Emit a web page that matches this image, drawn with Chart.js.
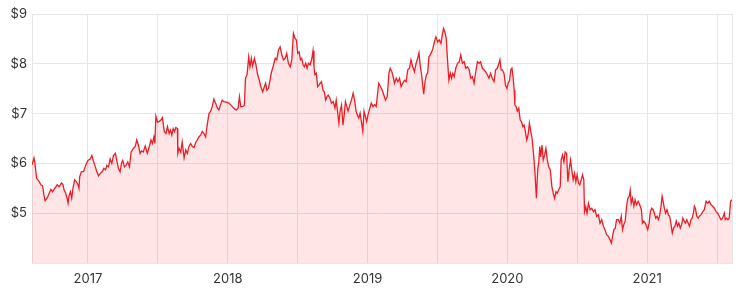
<!DOCTYPE html>
<html>
<head>
<meta charset="utf-8">
<script src="https://cdn.jsdelivr.net/npm/chart.js@4.4.1/dist/chart.umd.min.js"></script>
<style>
  html, body { margin: 0; padding: 0; background: #ffffff; }
  #wrap { width: 740px; height: 292px; }
</style>
</head>
<body>
<div id="wrap"><canvas id="c" width="740" height="292"></canvas></div>
<script>
// Dates as decimal years
const years = [
2016.600,2016.614,2016.621,2016.633,2016.652,2016.664,2016.676,2016.685,2016.694,2016.708,
2016.723,2016.735,2016.747,2016.763,2016.780,2016.794,2016.811,2016.822,2016.829,2016.841,
2016.851,2016.858,2016.865,2016.875,2016.884,2016.893,2016.905,2016.918,2016.929,2016.936,
2016.941,2016.953,2016.969,2016.984,2017.000,2017.017,2017.028,2017.041,2017.053,2017.064,
2017.076,2017.088,2017.102,2017.114,2017.126,2017.135,2017.147,2017.159,2017.171,2017.183,
2017.197,2017.206,2017.218,2017.230,2017.240,2017.249,2017.261,2017.273,2017.285,2017.297,
2017.309,2017.325,2017.339,2017.349,2017.361,2017.373,2017.384,2017.396,2017.410,2017.425,
2017.439,2017.451,2017.462,2017.472,2017.479,2017.486,2017.498,2017.510,2017.522,2017.533,
2017.546,2017.558,2017.569,2017.581,2017.590,2017.600,2017.610,2017.619,2017.629,2017.640,
2017.643,2017.652,2017.664,2017.674,2017.681,2017.688,2017.700,2017.711,2017.723,2017.735,
2017.747,2017.759,2017.771,2017.782,2017.794,2017.807,2017.818,2017.830,2017.842,2017.853,
2017.866,2017.878,2017.889,2017.901,2017.913,2017.925,2017.937,2017.949,2017.960,2017.972,
2017.989,2018.008,2018.027,2018.043,2018.060,2018.074,2018.084,2018.093,2018.107,2018.119,
2018.127,2018.138,2018.150,2018.159,2018.169,2018.178,2018.191,2018.202,2018.214,2018.226,
2018.237,2018.250,2018.262,2018.271,2018.280,2018.292,2018.311,2018.328,2018.340,2018.351,
2018.363,2018.375,2018.387,2018.399,2018.411,2018.422,2018.434,2018.447,2018.458,2018.470,
2018.482,2018.491,2018.501,2018.511,2018.520,2018.529,2018.539,2018.548,2018.558,2018.568,
2018.577,2018.589,2018.600,2018.610,2018.617,2018.624,2018.634,2018.643,2018.653,2018.662,
2018.671,2018.681,2018.691,2018.700,2018.710,2018.719,2018.731,2018.742,2018.755,2018.767,
2018.776,2018.785,2018.795,2018.804,2018.814,2018.824,2018.833,2018.842,2018.852,2018.861,
2018.873,2018.885,2018.897,2018.909,2018.918,2018.927,2018.937,2018.947,2018.956,2018.966,
2018.975,2018.984,2018.994,2019.003,2019.016,2019.027,2019.039,2019.051,2019.062,2019.080,
2019.094,2019.105,2019.117,2019.129,2019.141,2019.153,2019.162,2019.174,2019.183,2019.193,
2019.205,2019.217,2019.229,2019.240,2019.252,2019.264,2019.276,2019.288,2019.300,2019.311,
2019.323,2019.336,2019.347,2019.359,2019.368,2019.378,2019.387,2019.397,2019.402,2019.411,
2019.421,2019.430,2019.439,2019.449,2019.459,2019.468,2019.478,2019.489,2019.501,2019.513,
2019.525,2019.535,2019.544,2019.553,2019.563,2019.572,2019.582,2019.592,2019.601,2019.610,
2019.620,2019.631,2019.644,2019.656,2019.667,2019.679,2019.691,2019.703,2019.715,2019.727,
2019.738,2019.750,2019.762,2019.774,2019.786,2019.798,2019.809,2019.821,2019.833,2019.845,
2019.857,2019.869,2019.880,2019.892,2019.905,2019.916,2019.928,2019.940,2019.947,2019.956,
2019.964,2019.976,2019.987,2019.997,2020.006,2020.016,2020.025,2020.033,2020.042,2020.049,
2020.054,2020.063,2020.072,2020.082,2020.092,2020.101,2020.111,2020.120,2020.129,2020.139,
2020.148,2020.158,2020.168,2020.177,2020.184,2020.191,2020.198,2020.208,2020.217,2020.225,
2020.232,2020.239,2020.248,2020.257,2020.267,2020.276,2020.286,2020.296,2020.307,2020.319,
2020.331,2020.338,2020.348,2020.357,2020.367,2020.378,2020.385,2020.395,2020.405,2020.414,
2020.424,2020.433,2020.442,2020.452,2020.461,2020.471,2020.481,2020.490,2020.499,2020.509,
2020.518,2020.528,2020.538,2020.547,2020.552,2020.561,2020.570,2020.580,2020.592,2020.604,
2020.616,2020.627,2020.639,2020.651,2020.663,2020.675,2020.687,2020.698,2020.710,2020.722,
2020.734,2020.744,2020.753,2020.762,2020.772,2020.781,2020.794,2020.805,2020.815,2020.824,
2020.833,2020.843,2020.853,2020.862,2020.872,2020.879,2020.886,2020.895,2020.905,2020.914,
2020.924,2020.936,2020.947,2020.959,2020.966,2020.976,2020.986,2020.995,2021.004,2021.014,
2021.023,2021.033,2021.043,2021.052,2021.061,2021.071,2021.080,2021.089,2021.099,2021.107,
2021.114,2021.123,2021.132,2021.142,2021.151,2021.161,2021.171,2021.180,2021.189,2021.199,
2021.208,2021.217,2021.227,2021.237,2021.246,2021.256,2021.265,2021.274,2021.284,2021.294,
2021.303,2021.313,2021.322,2021.331,2021.338,2021.345,2021.355,2021.365,2021.374,2021.386,
2021.398,2021.409,2021.422,2021.434,2021.445,2021.457,2021.469,2021.481,2021.493,2021.505,
2021.516,2021.528,2021.540,2021.552,2021.559,2021.569,2021.578,2021.587,2021.597,2021.607
];
const prices = [
5.97,6.11,6.00,5.70,5.63,5.57,5.55,5.37,5.25,5.30,
5.40,5.48,5.43,5.50,5.57,5.53,5.61,5.57,5.47,5.40,
5.30,5.20,5.35,5.43,5.30,5.50,5.67,5.63,5.57,5.50,
5.73,5.83,5.84,5.96,6.06,6.09,6.16,6.03,5.93,5.83,
5.75,5.80,5.83,5.90,5.87,5.96,5.93,6.09,6.00,6.16,
6.20,6.06,5.90,5.83,6.00,6.06,5.93,5.96,6.03,5.93,
6.23,6.30,6.34,6.47,6.37,6.20,6.25,6.23,6.35,6.20,
6.34,6.47,6.40,6.53,6.40,6.95,6.83,6.84,6.87,6.92,
6.64,6.60,6.74,6.60,6.67,6.57,6.70,6.64,6.72,6.70,
6.20,6.30,6.23,6.43,6.27,6.11,6.27,6.20,6.34,6.40,
6.34,6.32,6.42,6.47,6.53,6.57,6.64,6.60,6.53,6.77,
7.00,7.05,7.14,7.29,7.21,7.12,7.07,7.18,7.27,7.24,
7.23,7.21,7.16,7.11,7.07,7.11,7.34,7.14,7.14,7.17,
7.71,7.78,8.14,7.94,8.11,7.96,8.11,7.98,7.78,7.67,
7.54,7.44,7.54,7.61,7.47,7.51,7.81,7.98,8.11,8.08,
8.28,8.34,8.18,8.08,8.11,8.21,8.01,7.94,8.08,8.61,
8.51,8.48,8.21,8.24,8.08,8.11,7.98,7.94,8.01,7.91,
8.01,7.98,8.08,8.26,7.94,7.78,7.81,7.54,7.57,7.61,
7.64,7.47,7.44,7.27,7.34,7.37,7.31,7.21,7.24,7.11,
7.27,7.05,6.81,7.05,7.17,6.77,6.97,7.24,7.14,7.05,
7.17,7.27,7.41,7.24,7.05,6.97,6.91,7.01,6.84,6.65,
7.05,6.95,6.84,6.97,7.11,7.21,7.14,7.18,7.14,7.61,
7.54,7.47,7.37,7.27,7.34,7.81,7.91,7.84,7.74,7.61,
7.71,7.64,7.71,7.54,7.61,7.67,7.64,7.88,7.91,8.08,
7.94,7.84,8.01,8.11,8.22,7.94,7.78,7.51,7.39,7.64,
7.78,7.81,8.14,8.18,8.24,8.31,8.44,8.54,8.44,8.48,
8.41,8.58,8.71,8.64,8.51,8.08,7.67,7.81,7.71,7.81,
7.74,7.91,8.01,8.04,8.18,8.01,8.04,7.91,7.94,7.88,
7.71,7.74,7.61,7.84,8.04,8.01,8.04,7.91,7.88,7.84,
7.78,7.71,7.81,7.71,7.64,7.88,7.91,8.01,8.08,7.88,
7.88,7.81,7.57,7.51,7.61,7.67,7.88,7.91,7.71,7.47,
7.17,7.14,7.05,7.11,6.87,6.84,6.74,6.77,6.64,6.47,
6.57,6.81,6.64,6.50,6.30,6.07,5.80,5.30,5.87,6.03,
6.34,6.13,6.37,6.07,6.17,6.30,6.07,5.93,5.87,5.53,
5.37,5.30,5.43,5.40,5.47,5.53,6.07,6.17,6.03,6.23,
6.20,5.63,5.87,6.07,5.87,5.67,5.80,5.63,5.77,5.60,
5.57,5.67,5.77,5.67,5.03,5.13,5.00,5.20,5.07,5.10,
5.03,5.07,4.94,4.97,4.80,4.87,4.74,4.67,4.57,4.54,
4.47,4.40,4.54,4.67,4.70,4.87,4.87,4.80,4.94,4.67,
4.77,4.84,5.14,5.30,5.34,5.46,5.20,5.30,5.14,5.27,
5.17,5.24,5.17,5.07,4.80,4.84,4.80,4.74,4.67,4.80,
5.03,5.10,5.07,5.00,4.90,4.94,4.87,4.94,5.14,5.34,
5.24,5.10,5.00,5.07,4.97,4.94,4.77,4.60,4.70,4.74,
4.84,4.74,4.80,4.70,4.77,4.90,4.84,4.80,4.87,4.80,
4.74,4.87,4.90,5.00,5.14,5.10,4.94,4.90,4.94,4.97,
5.03,5.07,5.24,5.20,5.24,5.17,5.14,5.10,5.03,5.00,
4.94,4.87,4.90,5.00,4.87,4.90,4.87,4.90,5.24,5.27
];
const xMin = 2016.600, xMax = 2021.607;
const xGridTicks = [2017, 2017.5, 2018, 2018.5, 2019, 2019.5, 2020, 2020.5, 2021, 2021.5];
const yTicks = [4, 5, 6, 7, 8, 9];

const points = years.map((x, i) => ({ x: x, y: prices[i] }));
const gridColor = '#e6e6e6';
const font = { family: 'Inter, "Noto Sans", sans-serif', size: 13 };

new Chart(document.getElementById('c'), {
  type: 'line',
  data: {
    datasets: [{
      data: points,
      borderColor: '#ee1c25',
      borderWidth: 1.3,
      backgroundColor: 'rgba(255,0,0,0.1)',
      fill: 'start',
      pointRadius: 0,
      tension: 0
    }]
  },
  options: {
    responsive: false,
    animation: false,
    devicePixelRatio: 1,
    layout: { padding: { top: 14, right: 1, left: 0, bottom: 0 } },
    plugins: { legend: { display: false }, tooltip: { enabled: false } },
    scales: {
      x: {
        type: 'linear',
        min: xMin, max: xMax,
        afterBuildTicks: (s) => { s.ticks = [xMin].concat(xGridTicks, [xMax]).map(v => ({ value: v })); },
        afterFit: (s) => { s.height = 29; },
        grid: { color: gridColor, drawTicks: false },
        border: { color: gridColor },
        ticks: {
          padding: 8, color: '#333333', font: font, maxRotation: 0, autoSkip: false,
          callback: (v) => (Number.isInteger(v) ? String(v) : '')
        }
      },
      y: {
        type: 'linear',
        min: 4, max: 9,
        afterBuildTicks: (s) => { s.ticks = yTicks.map(v => ({ value: v })); },
        afterFit: (s) => { s.width = 32; },
        grid: { color: gridColor, drawTicks: false },
        border: { color: gridColor },
        ticks: {
          padding: 5, color: '#333333', font: font,
          callback: (v) => (v === 4 ? '' : '$' + v)
        }
      }
    }
  }
});
</script>
</body>
</html>
